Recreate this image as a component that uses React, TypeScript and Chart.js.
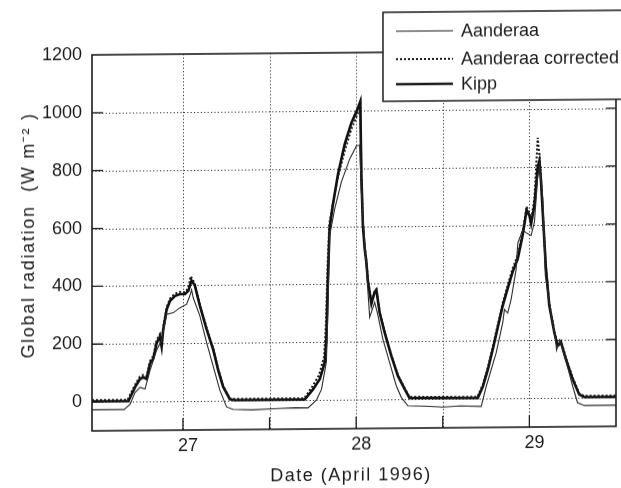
import React, { useEffect, useRef } from 'react';
import { Chart, registerables } from 'chart.js';

Chart.register(...registerables);

// ---- Data (day of April 1996, W m^-2) ----
const aanderaaTime = [
  26.475, 26.66, 26.695, 26.723, 26.752, 26.781, 26.81, 26.848, 26.877, 26.906, 26.944, 26.983,
  27.021, 27.04, 27.05, 27.059, 27.098, 27.137, 27.175, 27.213, 27.252, 27.29, 27.4, 27.55, 27.65,
  27.722, 27.771, 27.8, 27.828, 27.837, 27.847, 27.876, 27.914, 27.963, 28.002, 28.02, 28.03,
  28.049, 28.078, 28.107, 28.126, 28.154, 28.193, 28.232, 28.261, 28.299, 28.4, 28.5, 28.6, 28.722,
  28.75, 28.808, 28.846, 28.856, 28.875, 28.894, 28.923, 28.933, 28.961, 28.981, 29.01, 29.029,
  29.048, 29.058, 29.077, 29.092, 29.125, 29.15, 29.157, 29.175, 29.21, 29.25, 29.278, 29.317, 29.5,
];
const aanderaaValue = [
  -27, -27, -9, 31, 49, 43, 107, 177, 212, 300, 306, 323,
  335, 364, 385, 358, 294, 201, 119, 37, -21, -30, -32, -28, -26,
  -27, 0, 37, 131, 306, 567, 660, 752, 833, 878, 880, 716,
  542, 285, 336, 290, 209, 128, 46, 6, -23, -25, -28, -25, -27,
  40, 157, 261, 307, 295, 340, 444, 536, 582, 572, 562, 608,
  764, 800, 690, 423, 290, 205, 165, 200, 130, 40, -17, -27, -27,
];

const correctedTime = [
  26.475, 26.68, 26.72, 26.75, 26.771, 26.79, 26.81, 26.829, 26.848, 26.867, 26.877, 26.886, 26.906,
  26.925, 26.954, 26.983, 27.012, 27.031, 27.045, 27.069, 27.098, 27.137, 27.175, 27.203, 27.232,
  27.271, 27.3, 27.7, 27.745, 27.785, 27.815, 27.825, 27.835, 27.845, 27.866, 27.895, 27.934, 27.972,
  28.01, 28.024, 28.03, 28.039, 28.049, 28.059, 28.068, 28.088, 28.107, 28.117, 28.135, 28.164,
  28.203, 28.241, 28.28, 28.308, 28.7, 28.731, 28.76, 28.788, 28.817, 28.846, 28.875, 28.904, 28.933,
  28.961, 28.984, 29.0, 29.01, 29.029, 29.048, 29.058, 29.067, 29.083, 29.095, 29.115, 29.144,
  29.163, 29.183, 29.211, 29.25, 29.288, 29.317, 29.5,
];
const correctedValue = [
  6, 6, 55, 85, 92, 88, 140, 158, 212, 232, 200, 258, 325,
  355, 372, 378, 376, 392, 432, 405, 334, 252, 182, 112, 52,
  8, 6, 6, 45, 85, 150, 260, 470, 610, 680, 770, 860, 935,
  990, 1020, 790, 610, 530, 480, 415, 338, 376, 382, 306, 236,
  154, 85, 38, 8, 6, 48, 108, 178, 254, 330, 392, 450, 495,
  575, 662, 640, 615, 690, 900, 840, 760, 585, 458, 326, 232,
  186, 197, 139, 70, 15, 6, 6,
];

const kippTime = [
  26.475, 26.685, 26.723, 26.752, 26.771, 26.79, 26.81, 26.829, 26.848, 26.867, 26.877, 26.886,
  26.906, 26.925, 26.954, 26.983, 27.012, 27.031, 27.05, 27.069, 27.098, 27.137, 27.175, 27.203,
  27.232, 27.271, 27.3, 27.703, 27.751, 27.79, 27.819, 27.828, 27.837, 27.847, 27.866, 27.895,
  27.934, 27.972, 28.01, 28.024, 28.03, 28.039, 28.049, 28.059, 28.068, 28.088, 28.107, 28.117,
  28.135, 28.164, 28.203, 28.241, 28.28, 28.308, 28.702, 28.731, 28.76, 28.788, 28.817, 28.846,
  28.875, 28.904, 28.933, 28.961, 28.984, 29.0, 29.01, 29.029, 29.048, 29.058, 29.067, 29.083,
  29.095, 29.115, 29.144, 29.163, 29.183, 29.211, 29.25, 29.288, 29.317, 29.5,
];
const kippValue = [
  2, 2, 49, 78, 84, 78, 131, 148, 201, 224, 189, 247,
  317, 347, 364, 370, 370, 381, 417, 399, 329, 247, 177, 107,
  49, 5, 2, 2, 37, 72, 131, 212, 421, 595, 676, 780,
  884, 956, 1008, 1031, 776, 602, 524, 474, 408, 331, 372, 378,
  302, 232, 150, 81, 35, 4, 2, 41, 99, 168, 244, 320,
  380, 438, 482, 563, 650, 632, 603, 666, 797, 820, 752, 580,
  452, 320, 226, 180, 191, 133, 64, 11, 2, 2,
];

const yTickValues = [0, 200, 400, 600, 800, 1000, 1200];
const yGridValues = [0, 200, 400, 600, 800, 1000];
const xTickValues = [26.5, 27, 27.5, 28, 28.5, 29, 29.5];
const xGridValues = [27, 27.5, 28, 28.5, 29];
const xLabelDays = [27, 28, 29];
const seriesNames = ['Aanderaa', 'Aanderaa corrected', 'Kipp'];
const xTitle = 'Date (April 1996)';
const yTitle = 'Global radiation  (W m\u207B\u00B2 )';

const FONT = '"Liberation Sans", Arial, sans-serif';
const INK = '#1c1c1c';

const toPoints = (t: number[], v: number[]) => t.map((x, i) => ({ x, y: v[i] }));

const seriesStyles = [
  { width: 1.1, dash: [] as number[] },
  { width: 2, dash: [2, 2] },
  { width: 2.6, dash: [] as number[] },
];

const decorPlugin = {
  id: 'decor',
  beforeDatasetsDraw(chart: any) {
    const { ctx, chartArea: a, scales } = chart;
    const x = scales.x;
    const y = scales.y;
    ctx.save();
    ctx.strokeStyle = '#333';
    ctx.lineWidth = 1;
    ctx.setLineDash([1.2, 2.2]);
    for (const v of yGridValues) {
      const py = Math.round(y.getPixelForValue(v)) + 0.5;
      ctx.beginPath();
      ctx.moveTo(a.left, py);
      ctx.lineTo(a.right, py);
      ctx.stroke();
    }
    for (const v of xGridValues) {
      const px = Math.round(x.getPixelForValue(v)) + 0.5;
      ctx.beginPath();
      ctx.moveTo(px, a.top);
      ctx.lineTo(px, a.bottom);
      ctx.stroke();
    }
    ctx.restore();
  },
  afterDatasetsDraw(chart: any) {
    const { ctx, chartArea: a, scales } = chart;
    const x = scales.x;
    const y = scales.y;
    ctx.save();
    ctx.setLineDash([]);
    ctx.strokeStyle = INK;
    ctx.lineWidth = 1.6;
    ctx.strokeRect(a.left, a.top, a.right - a.left, a.bottom - a.top);
    ctx.lineWidth = 1.3;
    for (const v of yGridValues) {
      const py = y.getPixelForValue(v);
      ctx.beginPath();
      ctx.moveTo(a.left, py);
      ctx.lineTo(a.left + 11, py);
      ctx.moveTo(a.right - 10, py);
      ctx.lineTo(a.right, py);
      ctx.stroke();
    }
    for (const v of xGridValues) {
      const px = x.getPixelForValue(v);
      ctx.beginPath();
      ctx.moveTo(px, a.bottom);
      ctx.lineTo(px, a.bottom - 12);
      ctx.stroke();
    }

    // legend box
    const bx = 383, by = 13, bw = 260, bh = 89;
    ctx.fillStyle = '#fff';
    ctx.fillRect(bx, by, bw, bh);
    ctx.lineWidth = 1.5;
    ctx.strokeRect(bx, by, bw, bh);
    const rows = [32, 60, 85];
    ctx.font = `18px ${FONT}`;
    ctx.textBaseline = 'middle';
    ctx.textAlign = 'left';
    ctx.fillStyle = INK;
    seriesNames.forEach((name, i) => {
      const st = seriesStyles[i];
      ctx.lineWidth = st.width;
      ctx.setLineDash(st.dash);
      ctx.beginPath();
      ctx.moveTo(396, rows[i]);
      ctx.lineTo(453, rows[i]);
      ctx.stroke();
      ctx.setLineDash([]);
      ctx.fillText(name, 461, rows[i] + 1);
    });

    // axis titles
    ctx.fillStyle = INK;
    ctx.font = `18px ${FONT}`;
    (ctx as any).letterSpacing = '1.5px';
    ctx.textAlign = 'center';
    ctx.textBaseline = 'middle';
    ctx.fillText(xTitle, 351, 476);
    (ctx as any).letterSpacing = '1.7px';
    ctx.translate(29, 233);
    ctx.rotate(-Math.PI / 2);
    ctx.fillText(yTitle, 0, 0);
    ctx.restore();
  },
};

export default function App() {
  const ref = useRef<HTMLCanvasElement>(null);
  useEffect(() => {
    if (!ref.current) return;
    const chart = new Chart(ref.current, {
      type: 'line',
      data: {
        datasets: [
          {
            label: seriesNames[0],
            data: toPoints(aanderaaTime, aanderaaValue),
            borderColor: '#2a2a2a',
            borderWidth: seriesStyles[0].width,
            pointRadius: 0,
            tension: 0,
            fill: false,
            order: 0,
          },
          {
            label: seriesNames[1],
            data: toPoints(correctedTime, correctedValue),
            borderColor: '#161616',
            borderWidth: seriesStyles[1].width,
            borderDash: seriesStyles[1].dash,
            pointRadius: 0,
            tension: 0,
            fill: false,
            order: 1,
          },
          {
            label: seriesNames[2],
            data: toPoints(kippTime, kippValue),
            borderColor: '#111',
            borderWidth: seriesStyles[2].width,
            pointRadius: 0,
            tension: 0,
            fill: false,
            order: 2,
          },
        ],
      },
      options: {
        responsive: false,
        animation: false,
        events: [],
        layout: { padding: { left: 0, right: 0, top: 53, bottom: 0 } },
        plugins: { legend: { display: false }, tooltip: { enabled: false } },
        scales: {
          x: {
            type: 'linear',
            min: 26.475,
            max: 29.5,
            afterBuildTicks: (s: any) => {
              s.ticks = xTickValues.map((v) => ({ value: v }));
            },
            afterFit: (s: any) => {
              s.height = 59;
            },
            grid: { display: false, drawTicks: false },
            border: { display: false },
            ticks: {
              autoSkip: false,
              maxRotation: 0,
              padding: 5,
              labelOffset: 5,
              color: INK,
              font: { family: FONT, size: 18 },
              callback: (v: any) => (xLabelDays.includes(Number(v)) ? String(v) : ''),
            },
          },
          y: {
            min: -100,
            max: 1200,
            afterBuildTicks: (s: any) => {
              s.ticks = yTickValues.map((v) => ({ value: v }));
            },
            afterFit: (s: any) => {
              s.width = 92;
            },
            grid: { display: false, drawTicks: false },
            border: { display: false },
            ticks: {
              padding: 10,
              color: INK,
              font: { family: FONT, size: 18 },
              callback: (v: any) => String(v),
            },
          },
        },
      },
      plugins: [decorPlugin],
    } as any);
    return () => chart.destroy();
  }, []);
  return (
    <canvas
      ref={ref}
      width={621}
      height={488}
      style={{
        position: 'absolute',
        left: 0,
        top: 0,
        width: 621,
        height: 488,
        display: 'block',
        transform: 'skewY(-0.5deg)',
        transformOrigin: '310px 244px',
      }}
    />
  );
}
